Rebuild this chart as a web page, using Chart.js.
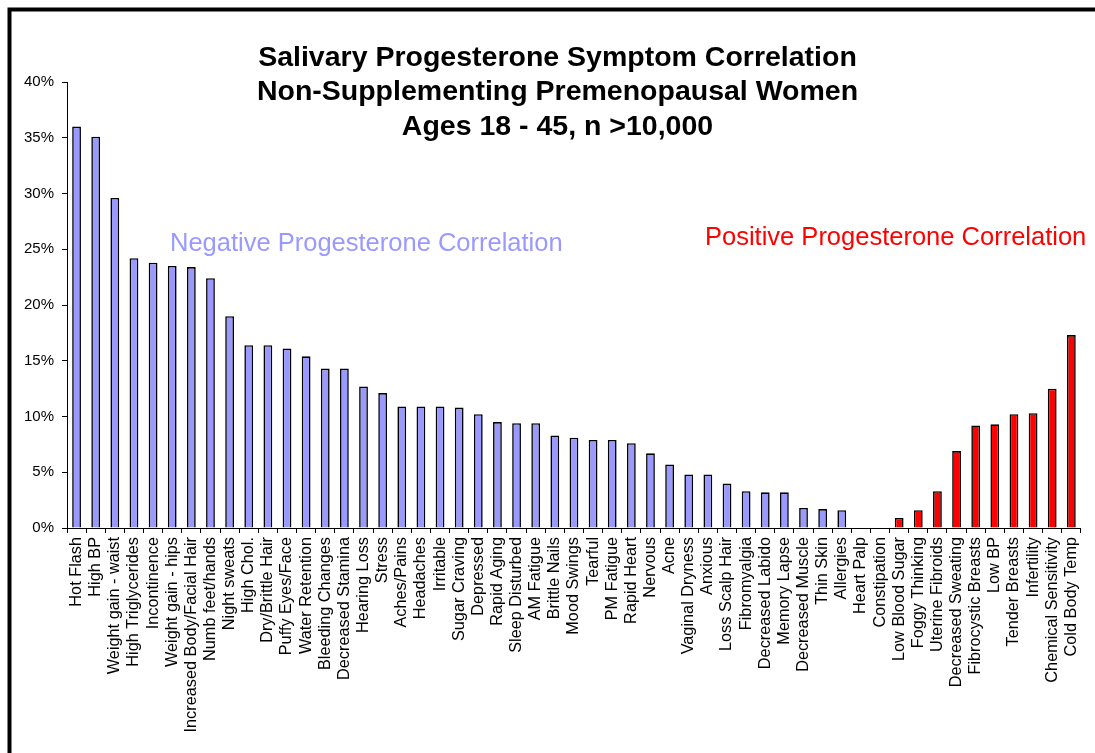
<!DOCTYPE html>
<html>
<head>
<meta charset="utf-8">
<script src="https://cdn.jsdelivr.net/npm/chart.js@4/dist/chart.umd.min.js"></script>
<style>
  html, body { margin: 0; padding: 0; background: #fff; }
  #wrap { position: relative; width: 1095px; height: 753px; }
</style>
</head>
<body>
<div id="wrap"><canvas id="c"></canvas></div>
<script>
// Symptoms negatively correlated with progesterone (blue)
const negativeCategories = [
  "Hot Flash", "High BP", "Weight gain - waist", "High Triglycerides", "Incontinence",
  "Weight gain - hips", "Increased Body/Facial Hair", "Numb feet/hands", "Night sweats",
  "High Chol.", "Dry/Brittle Hair", "Puffy Eyes/Face", "Water Retention", "Bleeding Changes",
  "Decreased Stamina", "Hearing Loss", "Stress", "Aches/Pains", "Headaches", "Irritable",
  "Sugar Craving", "Depressed", "Rapid Aging", "Sleep Disturbed", "AM Fatigue", "Brittle Nails",
  "Mood Swings", "Tearful", "PM Fatigue", "Rapid Heart", "Nervous", "Acne", "Vaginal Dryness",
  "Anxious", "Loss Scalp Hair", "Fibromyalgia", "Decreased Labido", "Memory Lapse",
  "Decreased Muscle", "Thin Skin", "Allergies", "Heart Palp", "Constipation"
];
const negativeValues = [
  36.0, 35.1, 29.6, 24.2, 23.8,
  23.5, 23.4, 22.4, 19.0,
  16.4, 16.4, 16.1, 15.4, 14.3,
  14.3, 12.7, 12.1, 10.9, 10.9, 10.9,
  10.8, 10.2, 9.5, 9.4, 9.4, 8.3,
  8.1, 7.9, 7.9, 7.6, 6.7, 5.7, 4.8,
  4.8, 4.0, 3.3, 3.2, 3.2,
  1.8, 1.7, 1.6, 0, 0
];
// Symptoms positively correlated with progesterone (red)
const positiveCategories = [
  "Low Blood Sugar", "Foggy Thinking", "Uterine Fibroids", "Decreased Sweating",
  "Fibrocystic Breasts", "Low BP", "Tender Breasts", "Infertility",
  "Chemical Sensitivity", "Cold Body Temp"
];
const positiveValues = [0.9, 1.6, 3.3, 6.9, 9.2, 9.3, 10.2, 10.3, 12.5, 17.3];
const yTicks = [0, 5, 10, 15, 20, 25, 30, 35, 40];
const titleLines = [
  "Salivary Progesterone Symptom Correlation",
  "Non-Supplementing Premenopausal Women",
  "Ages 18 - 45, n >10,000"
];
const negativeNote = "Negative Progesterone Correlation";
const positiveNote = "Positive Progesterone Correlation";

const NEG_COLOR = "#9999FF";
const POS_COLOR = "#FF0000";

const categories = negativeCategories.concat(positiveCategories);
const values = negativeValues.concat(positiveValues);
const colors = negativeValues.map(() => NEG_COLOR).concat(positiveValues.map(() => POS_COLOR));

const FONT = "Arial, 'Liberation Sans', Helvetica, sans-serif";

const decor = {
  id: "decor",
  beforeDraw(chart) {
    const ctx = chart.ctx;
    ctx.save();
    ctx.fillStyle = "#fff";
    ctx.fillRect(0, 0, chart.width, chart.height);
    ctx.restore();
  },
  afterDraw(chart) {
    const ctx = chart.ctx;
    ctx.save();
    // frame
    ctx.strokeStyle = "#000";
    ctx.lineWidth = 4;
    ctx.strokeRect(9.5, 9.5, 3000, 3000);
    // title
    ctx.fillStyle = "#000";
    ctx.font = "bold 28.5px " + FONT;
    ctx.textAlign = "center";
    ctx.textBaseline = "middle";
    const tops = [58, 92.5, 127];
    titleLines.forEach((t, i) => ctx.fillText(t, 557.5, tops[i]));
    // notes
    ctx.font = "25.5px " + FONT;
    ctx.textAlign = "left";
    ctx.fillStyle = NEG_COLOR;
    ctx.fillText(negativeNote, 170, 244);
    ctx.fillStyle = POS_COLOR;
    ctx.fillText(positiveNote, 705, 238);
    ctx.restore();
  }
};

new Chart(document.getElementById("c"), {
  type: "bar",
  data: {
    labels: categories,
    datasets: [{
      data: values,
      backgroundColor: colors,
      borderColor: "#000",
      borderWidth: 1.6,
      barPercentage: 0.46,
      categoryPercentage: 1.0
    }]
  },
  plugins: [decor],
  options: {
    responsive: true,
    maintainAspectRatio: false,
    animation: false,
    layout: { padding: { top: 82, right: 10, left: 0, bottom: 0 } },
    plugins: {
      legend: { display: false },
      title: { display: false },
      tooltip: { enabled: false }
    },
    scales: {
      x: {
        offset: true,
        grid: {
          offset: true,
          drawOnChartArea: false,
          drawTicks: true,
          tickLength: 5,
          color: "#000",
          lineWidth: 1
        },
        border: { display: true, color: "#000", width: 1 },
        ticks: {
          autoSkip: false,
          maxRotation: 90,
          minRotation: 90,
          padding: 4,
          color: "#000",
          font: { family: FONT, size: 16.3 }
        },
        afterFit(scale) { scale.height = 225; }
      },
      y: {
        min: 0,
        max: 40,
        afterBuildTicks(scale) { scale.ticks = yTicks.map(v => ({ value: v })); },
        grid: {
          drawOnChartArea: false,
          drawTicks: true,
          tickLength: 5,
          color: "#000"
        },
        border: { display: true, color: "#000", width: 1 },
        ticks: {
          padding: 8,
          color: "#000",
          font: { family: FONT, size: 15 },
          callback: v => v + "%"
        },
        afterFit(scale) { scale.width = 67; }
      }
    }
  }
});
</script>
</body>
</html>
